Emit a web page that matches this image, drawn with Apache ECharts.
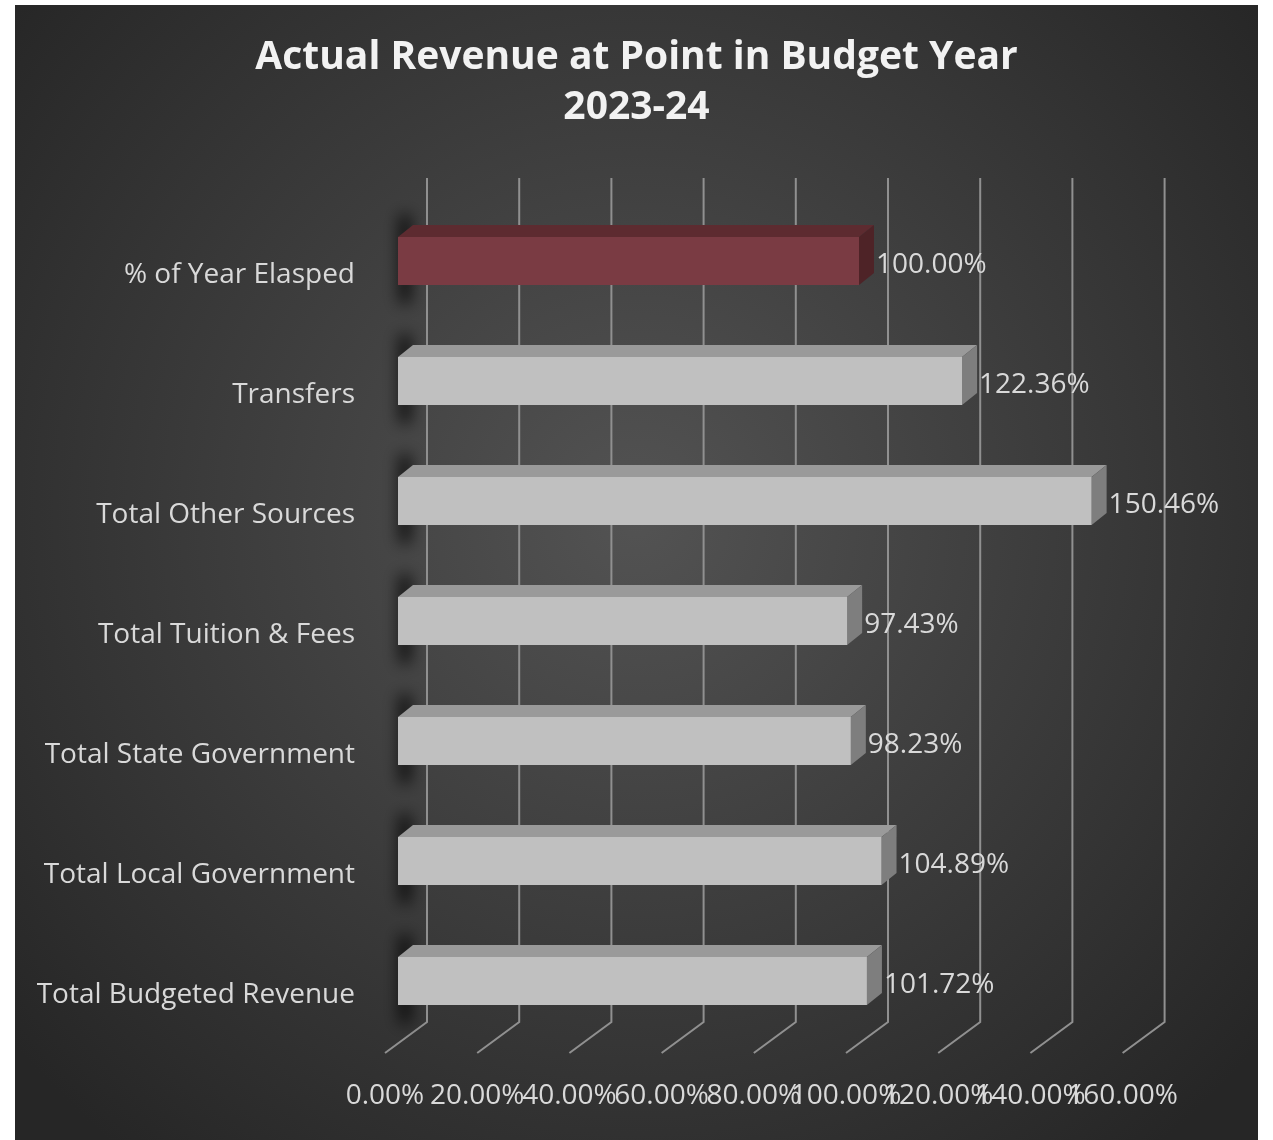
<!DOCTYPE html>
<html>
<head>
<meta charset="utf-8">
<script src="https://cdn.jsdelivr.net/npm/echarts@6/dist/echarts.min.js"></script>
<style>
  html, body { margin: 0; padding: 0; background: #ffffff; }
  #chart { width: 1273px; height: 1140px; }
</style>
</head>
<body>
<div id="chart"></div>
<script>
// Revenue categories, top to bottom
const categories = [
  '% of Year Elasped',
  'Transfers',
  'Total Other Sources',
  'Total Tuition & Fees',
  'Total State Government',
  'Total Local Government',
  'Total Budgeted Revenue'
];
// Percent of budget collected
const values = [100.00, 122.36, 150.46, 97.43, 98.23, 104.89, 101.72];
// Value axis ticks and their labels
const tickValues = [0, 20, 40, 60, 80, 100, 120, 140, 160];
const tickLabels = ['0.00%', '20.00%', '40.00%', '60.00%', '80.00%', '100.00%', '120.00%', '140.00%', '160.00%'];

const DEPTH_X = 15, DEPTH_Y = -12;          // bar extrusion
const WALL_X = 29;                          // back wall shift
const FLOOR_X = -13;                        // front edge of floor
const LABEL_COLOR = '#d9d9d9';
const FONT = "'Open Sans', 'Noto Sans', sans-serif";
const FAR = 3000;                           // offset used to draw shadow only

const palette = {
  normal: { front: '#c0c0c0', top: '#9a9a9a', side: '#7e7e7e' },
  marker: { front: '#7a3b43', top: '#5d2b30', side: '#4e2327' }
};

const chart = echarts.init(document.getElementById('chart'));

// back-wall gridline, floor line and tick label for one tick
function renderGrid(params, api) {
  const v = api.value(0);
  const p = api.coord([v, 0]);
  const cs = params.coordSys;
  const top = cs.y - 23;
  const bottom = cs.y + cs.height - 19;
  const bx = p[0] + WALL_X;
  const fx = p[0] + FLOOR_X;
  return {
    type: 'group',
    children: [
      {
        type: 'polyline',
        shape: { points: [[bx, top], [bx, bottom], [fx, bottom + 31]] },
        style: { stroke: '#909090', lineWidth: 2, fill: null },
        silent: true
      },
      {
        type: 'text',
        x: fx,
        y: bottom + 74,
        style: {
          text: tickLabels[params.dataIndex],
          fill: LABEL_COLOR,
          font: '28px ' + FONT,
          align: 'center',
          verticalAlign: 'middle'
        },
        silent: true
      }
    ]
  };
}

function renderBar(params, api) {
  const v = api.value(0);
  const idx = api.value(1);
  const s = api.coord([0, idx]);
  const e = api.coord([v, idx]);
  const h = api.size([0, 1])[1] * 0.4;
  const y0 = s[1] - h / 2, y1 = s[1] + h / 2;
  const x0 = s[0], x1 = e[0];
  const c = idx === 0 ? palette.marker : palette.normal;
  return {
    type: 'group',
    children: [
      {
        // soft cast shadow at the bar's root; the shape sits off-canvas
        type: 'rect',
        shape: { x: x0 + 2 - FAR, y: y0 - 22, width: 10, height: h + 40 },
        style: {
          fill: '#000',
          shadowBlur: 16,
          shadowColor: 'rgba(0,0,0,0.95)',
          shadowOffsetX: FAR
        },
        silent: true
      },
      {
        type: 'polygon',
        shape: { points: [[x0, y0], [x0 + DEPTH_X, y0 + DEPTH_Y], [x1 + DEPTH_X, y0 + DEPTH_Y], [x1, y0]] },
        style: { fill: c.top }
      },
      {
        type: 'polygon',
        shape: { points: [[x1, y0], [x1 + DEPTH_X, y0 + DEPTH_Y], [x1 + DEPTH_X, y1 + DEPTH_Y], [x1, y1]] },
        style: { fill: c.side }
      },
      {
        type: 'rect',
        shape: { x: x0, y: y0, width: x1 - x0, height: h },
        style: { fill: c.front }
      },
      {
        type: 'text',
        x: x1 + DEPTH_X + 2,
        y: s[1] + 4,
        style: {
          text: v.toFixed(2) + '%',
          fill: LABEL_COLOR,
          font: '28px ' + FONT,
          verticalAlign: 'middle',
          align: 'left'
        }
      }
    ]
  };
}

chart.setOption({
  animation: false,
  backgroundColor: 'transparent',
  graphic: [{
    type: 'rect',
    z: -10,
    shape: { x: 15, y: 5, width: 1243, height: 1135 },
    style: {
      fill: new echarts.graphic.RadialGradient(0.5, 0.45, 0.72, [
        { offset: 0, color: '#535353' },
        { offset: 1, color: '#262626' }
      ])
    },
    silent: true
  }],
  title: {
    text: 'Actual Revenue at Point in Budget Year\n2023-24',
    left: 'center',
    top: 28,
    textStyle: {
      color: '#f2f2f2',
      fontSize: 39,
      fontWeight: 'bold',
      fontFamily: FONT,
      lineHeight: 50
    }
  },
  grid: { left: 398, right: 137.4, top: 201, bottom: 99, containLabel: false },
  xAxis: {
    type: 'value',
    min: 0,
    max: 160,
    interval: 20,
    axisLine: { show: false },
    axisTick: { show: false },
    splitLine: { show: false },
    axisLabel: { show: false }
  },
  yAxis: {
    type: 'category',
    data: categories,
    inverse: true,
    axisLine: { show: false },
    axisTick: { show: false },
    splitLine: { show: false },
    axisLabel: {
      color: LABEL_COLOR,
      fontSize: 28,
      fontFamily: FONT,
      margin: 43,
      verticalAlign: 'top',
      lineHeight: 28
    }
  },
  series: [
    {
      type: 'custom',
      z: 1,
      renderItem: renderGrid,
      data: tickValues.map(v => [v, 0]),
      encode: { x: 0, y: 1 },
      silent: true
    },
    {
      type: 'custom',
      z: 3,
      renderItem: renderBar,
      data: values.map((v, i) => [v, i]),
      encode: { x: 0, y: 1 }
    }
  ]
});
</script>
</body>
</html>
